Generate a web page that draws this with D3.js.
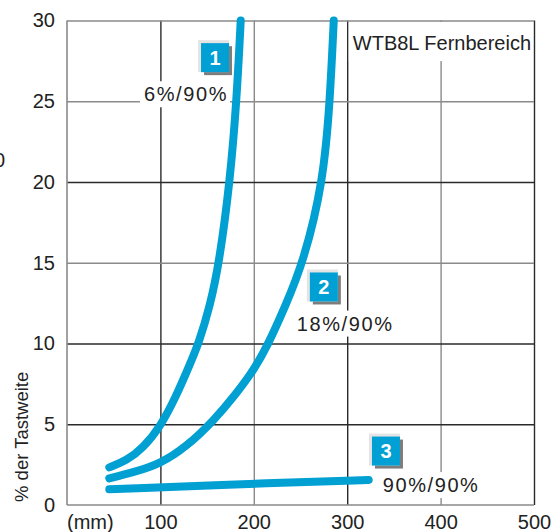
<!DOCTYPE html>
<html><head><meta charset="utf-8">
<script src="https://cdn.jsdelivr.net/npm/d3@7"></script>
<style>
body{margin:0;background:#fff}
svg{display:block}
text{font-family:"Liberation Sans",Arial,sans-serif;fill:#222}
</style>
</head><body>
<svg id="c" width="553" height="532"></svg>
<script>
// ---- data ----
const xTicks = [100, 200, 300, 400, 500];
const yTicks = [0, 5, 10, 15, 20, 25, 30];
const curve1X = [45.3, 63.9, 81.7, 100, 117, 130, 141, 153, 163, 174.4, 181.6, 186];
const curve1Y = [2.33, 2.75, 3.55, 4.85, 6.75, 8.5, 10, 12.3, 15, 20, 25, 30];
const curve2X = [45.3, 71, 100, 128, 156.7, 181.6, 200, 215, 233.4, 253, 274.4, 281.5, 285.6];
const curve2Y = [1.65, 2.02, 2.55, 3.62, 5.2, 6.92, 8.36, 9.9, 12.27, 15, 20, 25, 30];
const curve3X = [45.3, 228, 323];
const curve3Y = [0.97, 1.38, 1.55];
const seriesNames = ["1", "2", "3"];
const seriesLabels = ["6%/90%", "18%/90%", "90%/90%"];
const title = "WTB8L Fernbereich";
const yTitle = "% der Tastweite";
const xUnit = "(mm)";

// ---- layout ----
const svg = d3.select("#c");
const x = d3.scaleLinear().domain([0, 500]).range([67, 534]);
const y = d3.scaleLinear().domain([0, 30]).range([505, 20.5]);
const blue = "#00a0d3";
const dark = "#2a2a2a", grey = "#8a8a8a";

// grid (vertical)
const gx = svg.append("g").attr("transform", `translate(0,${y(0)})`)
  .call(d3.axisBottom(x).tickValues(xTicks).tickSize(-(y(0) - y(30))).tickFormat(""));
gx.select(".domain").remove();
gx.selectAll(".tick line").attr("stroke", (d) => (d === 200 || d === 400) ? grey : dark).attr("stroke-width", 1.4);
// grid (horizontal)
const gy = svg.append("g").attr("transform", `translate(${x(0)},0)`)
  .call(d3.axisLeft(y).tickValues(yTicks.filter(v => v > 0)).tickSize(-(x(500) - x(0))).tickFormat(""));
gy.select(".domain").remove();
gy.selectAll(".tick line").attr("stroke", (d) => (d === 15 || d === 25 || d === 30) ? grey : dark).attr("stroke-width", 1.4);
// axis lines
svg.append("line").attr("x1", x(0)).attr("x2", x(0)).attr("y1", y(0)).attr("y2", y(30)).attr("stroke", grey).attr("stroke-width", 1.6);
svg.append("line").attr("x1", x(0)).attr("x2", x(500)).attr("y1", y(0)).attr("y2", y(0)).attr("stroke", grey).attr("stroke-width", 1.6);

// tick labels
const ay = svg.append("g").attr("transform", `translate(${x(0) - 12},0)`)
  .call(d3.axisLeft(y).tickValues(yTicks).tickSize(0).tickPadding(0));
ay.select(".domain").remove();
ay.selectAll("text").style("font-size", "20px").style("font-family", "'Liberation Sans',Arial,sans-serif").attr("fill", "#222");
const ax = svg.append("g").attr("transform", `translate(0,${y(0) + 10})`)
  .call(d3.axisBottom(x).tickValues(xTicks).tickSize(0).tickPadding(0));
ax.select(".domain").remove();
ax.selectAll("text").style("font-size", "20px").style("font-family", "'Liberation Sans',Arial,sans-serif").attr("fill", "#222");
svg.append("text").attr("x", x(0)).attr("y", 528.5).style("font-size", "20px").text(xUnit);
svg.append("text").attr("transform", `translate(28,502) rotate(-90)`).style("font-size", "18.5px").text(yTitle);
svg.append("text").attr("x", -6).attr("y", 167).style("font-size", "20px").text("0");

// annotation positions (data units)
const labelPos = [
  {bx: 158.5, by: 27.7, tx: 172.4, ty: 25.0, anchor: "end"},
  {bx: 275, by: 13.5, tx: 246, ty: 10.8, anchor: "start"},
  {bx: 341.5, by: 3.34, tx: 338, ty: 0.8, anchor: "start"}
];

// backgrounds for labels
const labG = svg.append("g");
const bgG = labG.append("g");
const txts = labelPos.map((p, i) => labG.append("text")
  .attr("x", x(p.tx)).attr("y", y(p.ty)).attr("text-anchor", p.anchor)
  .style("font-size", "20px").style("letter-spacing", "1.6px").text(seriesLabels[i]));
txts.forEach(t => {
  const b = t.node().getBBox();
  bgG.append("rect").attr("x", b.x - 4).attr("y", b.y - 2).attr("width", b.width + 6).attr("height", b.height + 4).attr("fill", "#fff");
});
// title
const titleG = svg.append("g");
const titleBg = titleG.append("rect").attr("fill", "#fff");
const tt = titleG.append("text").attr("x", x(306)).attr("y", y(28.2)).style("font-size", "20px").text(title);
const tb = tt.node().getBBox();
titleBg.attr("x", tb.x - 4).attr("y", y(30) + 1.5).attr("width", x(500) - tb.x + 3).attr("height", tb.y + tb.height + 6 - y(30));

// curves
const line = d3.line().x(d => x(d[0])).y(d => y(d[1])).curve(d3.curveBasis);
const series = [
  d3.zip(curve1X, curve1Y),
  d3.zip(curve2X, curve2Y),
  d3.zip(curve3X, curve3Y)
];
svg.append("g").selectAll("path").data(series).join("path")
  .attr("d", line).attr("fill", "none").attr("stroke", blue)
  .attr("stroke-width", 8).attr("stroke-linecap", "round").attr("stroke-linejoin", "round");

// boxes
const bw = 28, bh = 29;
labelPos.forEach((p, i) => {
  const cx = x(p.bx), cy = y(p.by);
  const g = svg.append("g");
  g.append("rect").attr("x", cx - bw / 2 + 3).attr("y", cy - bh / 2 + 3).attr("width", bw).attr("height", bh).attr("fill", "#7d7d7d");
  g.append("rect").attr("x", cx - bw / 2 - 3).attr("y", cy - bh / 2 - 3).attr("width", bw + 3).attr("height", bh + 3).attr("fill", "#e4e4e4");
  g.append("rect").attr("x", cx - bw / 2).attr("y", cy - bh / 2).attr("width", bw).attr("height", bh).attr("fill", "#009fd4");
  g.append("text").attr("x", cx).attr("y", cy + 7).attr("text-anchor", "middle")
    .style("font-size", "20px").style("font-weight", "bold").style("fill", "#fff").text(seriesNames[i]);
});
</script>
</body></html>
